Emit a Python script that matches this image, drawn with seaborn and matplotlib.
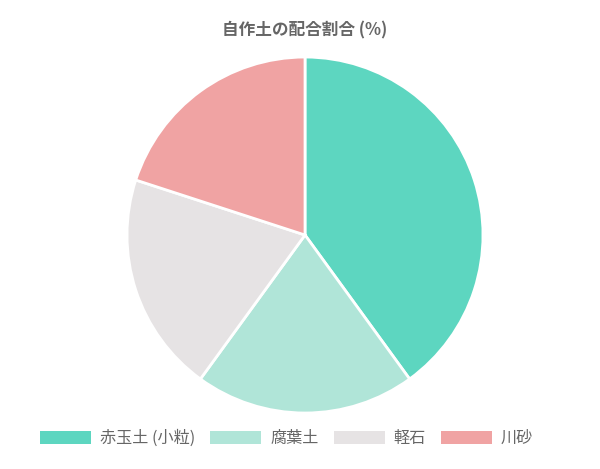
import matplotlib
matplotlib.use('Agg')
import matplotlib.pyplot as plt
import seaborn as sns

# data
labels = ['赤玉土 (小粒)', '腐葉土', '軽石', '川砂']
values = [40, 20, 20, 20]
colors = ['#5dd6c0', '#b0e5d8', '#e6e3e4', '#f0a3a3']
title = '自作土の配合割合 (%)'

sns.set_style('white')
plt.rcParams['font.family'] = ['Noto Sans CJK JP', 'DejaVu Sans']

fig = plt.figure(figsize=(6, 4.69), dpi=100)
ax = fig.add_axes([0.2117, 0.1194, 0.5933, 0.759])

wedges, _ = ax.pie(values, colors=colors, startangle=90, counterclock=False,
                   wedgeprops=dict(edgecolor='white', linewidth=2))
ax.set_xlim(-1, 1)
ax.set_ylim(-1, 1)
ax.set_aspect('equal')
ax.axis('off')

fig.text(0.508, 0.935, title, ha='center', va='center', fontsize=12,
         fontweight='bold', color='#666666')

leg = fig.legend(wedges, labels, loc='center', bbox_to_anchor=(0.4775, 0.065),
                 ncol=4, frameon=False, fontsize=11.6, handlelength=3.17,
                 handleheight=0.8, handletextpad=0.56, columnspacing=0.93,
                 labelcolor='#666666', borderpad=0, borderaxespad=0)
for h in leg.legend_handles:
    h.set_edgecolor('none')

fig.savefig('out.png', dpi=100)
